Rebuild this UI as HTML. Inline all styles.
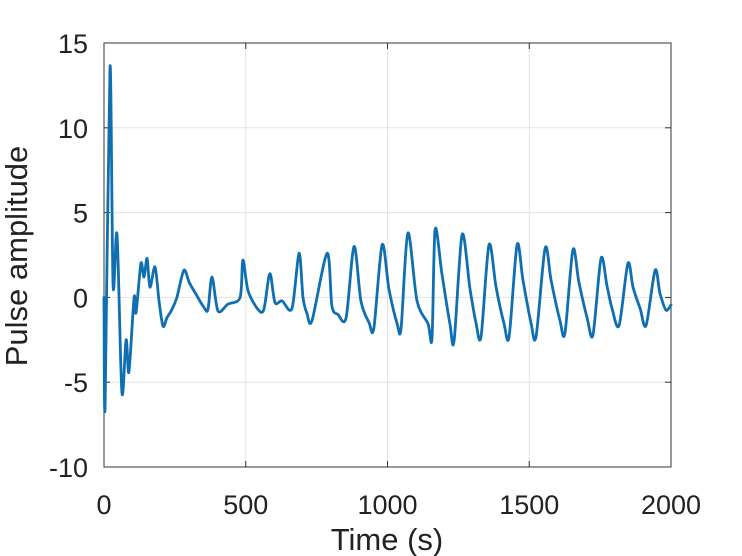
<!DOCTYPE html>
<html><head><meta charset="utf-8"><style>
html,body{margin:0;padding:0;background:#fff;}
svg{display:block;font-family:"Liberation Sans",sans-serif;}
</style></head><body>
<svg id="chart" width="742" height="556">
<g id="grid"></g>
<g id="axes"></g>
<path id="line" fill="none" stroke="#0f6fb0" stroke-width="2.8" stroke-linejoin="round" stroke-linecap="round"/>
<text x="387" y="550" text-anchor="middle" font-size="31" fill="#222">Time (s)</text>
<text transform="translate(27,256) rotate(-90)" text-anchor="middle" font-size="31" fill="#222">Pulse amplitude</text>
</svg>
<script>
const xTicks=[0,500,1000,1500,2000];
const yTicks=[-10,-5,0,5,10,15];
const times=[0,4,21,32,46,63,78,88,106,113,130,141,152,162,180,194,208,222,240,257,282,300,324,353,367,381,402,437,480,490,508,543,564,585,603,628,663,688,702,716,734,787,804,825,854,882,906,935,952,981,1005,1034,1048,1072,1104,1143,1157,1168,1192,1220,1235,1263,1291,1312,1330,1358,1383,1411,1429,1457,1478,1506,1524,1556,1577,1608,1626,1654,1675,1704,1725,1753,1774,1792,1817,1848,1866,1891,1912,1944,1961,1982,2000];
const amps=[0,-6.4,13.6,0.7,3.7,-5.6,-2.5,-4.4,0,-0.9,2.0,1.2,2.3,0.6,1.8,-0.2,-1.7,-1.2,-0.7,0,1.6,0.9,0.2,-0.6,-0.7,1.2,-0.8,-0.4,0,2.2,0.4,-0.7,-0.7,1.4,-0.3,-0.2,-0.65,2.6,0,-0.95,-1.35,2.6,-0.5,-1.0,-1.2,3.0,-0.2,-1.5,-1.8,3.1,0.5,-1.55,-1.8,3.8,-0.2,-1.55,-2.4,4.0,1.4,-1.55,-2.55,3.7,0.5,-1.5,-2.3,3.1,0.6,-1.55,-2.3,3.1,1.0,-1.5,-2.3,2.9,1.0,-1.35,-2.1,2.8,0.9,-1.2,-2.2,2.3,0.7,-0.65,-1.65,2.0,0.6,-0.65,-1.65,1.6,0.25,-0.75,-0.45];
const L=104,R=671,T=43,B=467;
const xs=t=>L+(t-0)/2000*(R-L);
const ys=v=>B-(v+10)/25*(B-T);
const NS='http://www.w3.org/2000/svg';
const grid=document.getElementById('grid'),axes=document.getElementById('axes');
function mk(tag,attrs,parent){const e=document.createElementNS(NS,tag);for(const k in attrs)e.setAttribute(k,attrs[k]);parent.appendChild(e);return e;}
xTicks.forEach(t=>{const x=xs(t);
 const g=mk('line',{x1:x,x2:x,y1:T,y2:B,stroke:'#e3e3e3','stroke-width':1},grid);
 
 
 mk('line',{x1:x,x2:x,y1:B,y2:B-6,stroke:'#333'},axes);
 mk('line',{x1:x,x2:x,y1:T,y2:T+6,stroke:'#333'},axes);
 const tx=mk('text',{x:x,y:B+47,'text-anchor':'middle','font-size':27,fill:'#222'},axes);
 tx.textContent=t;
 
 
});
yTicks.forEach(v=>{const y=ys(v);
 const g=mk('line',{x1:L,x2:R,y1:y,y2:y,stroke:'#e3e3e3','stroke-width':1},grid);
 
 
 mk('line',{x1:L,x2:L+6,y1:y,y2:y,stroke:'#333'},axes);
 mk('line',{x1:R,x2:R-6,y1:y,y2:y,stroke:'#333'},axes);
 const tx=mk('text',{x:L-16,y:y+10,'text-anchor':'end','font-size':27,fill:'#222'},axes);
 tx.textContent=v;
 
 
});
const box=mk('rect',{x:L,y:T,width:R-L,height:B-T,fill:'none',stroke:'#333','stroke-width':1},axes);


const P=times.map((t,i)=>[xs(t),ys(amps[i])]);
let d='M'+P[0][0].toFixed(1)+','+P[0][1].toFixed(1);
for(let i=0;i<P.length-1;i++){
 const p0=P[Math.max(0,i-1)],p1=P[i],p2=P[i+1],p3=P[Math.min(P.length-1,i+2)];
 const k=0.3;
 const c1=[p1[0]+(p2[0]-p0[0])*k/1.0*0.5,p1[1]+(p2[1]-p0[1])*k/1.0*0.5];
 const c2=[p2[0]-(p3[0]-p1[0])*k*0.5,p2[1]-(p3[1]-p1[1])*k*0.5];
 c1[0]=Math.min(Math.max(c1[0],p1[0]),p2[0]);c2[0]=Math.min(Math.max(c2[0],p1[0]),p2[0]);
 d+='C'+c1[0].toFixed(1)+','+c1[1].toFixed(1)+' '+c2[0].toFixed(1)+','+c2[1].toFixed(1)+' '+p2[0].toFixed(1)+','+p2[1].toFixed(1);
}
document.getElementById('line').setAttribute('d',d);
</script>
</body></html>
